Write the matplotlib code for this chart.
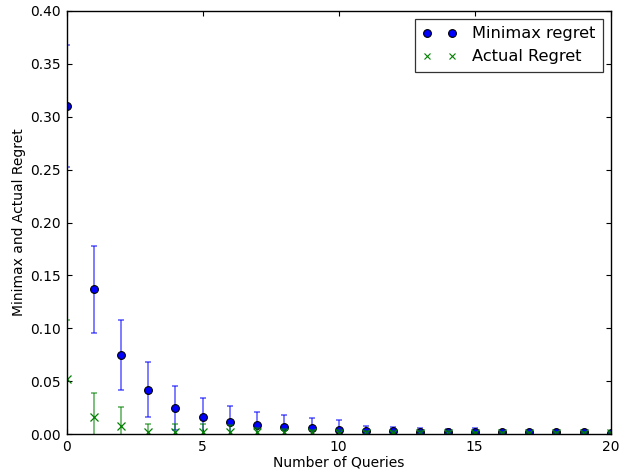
import numpy as np
import matplotlib
matplotlib.use("Agg")
import matplotlib.pyplot as plt

# number of queries
queries = list(range(21))

# minimax regret (mean and error)
minimax = [0.310, 0.137, 0.075, 0.042, 0.025, 0.016, 0.0115, 0.009, 0.0066, 0.0057,
           0.004, 0.003, 0.0028, 0.0025, 0.0024, 0.0023, 0.0022, 0.002, 0.0018, 0.0017, 0.0015]
minimax_err = [0.058, 0.041, 0.033, 0.026, 0.021, 0.018, 0.015, 0.012, 0.012, 0.010,
               0.0095, 0.0045, 0.004, 0.0033, 0.003, 0.0033, 0.001, 0.001, 0.001, 0.001, 0.001]

# actual regret (mean and error)
actual = [0.052, 0.016, 0.008, 0.0025, 0.002, 0.002, 0.002, 0.0025, 0.0018, 0.0017,
          0.0016, 0.0015, 0.0015, 0.0015, 0.0015, 0.0014, 0.0014, 0.0013, 0.0013, 0.0012, 0.0012]
actual_err = [0.056, 0.023, 0.018, 0.007, 0.008, 0.008, 0.007, 0.0035, 0.003, 0.002,
              0.002, 0.0015, 0.0015, 0.0015, 0.0015, 0.001, 0.001, 0.001, 0.001, 0.001, 0.001]

blue = (0, 0, 1)
green = (0, 0.5, 0)

fig = plt.figure(figsize=(6.29, 4.70), dpi=100)
ax = fig.add_axes([0.106, 0.076, 0.865, 0.901])

ax.errorbar(queries, minimax, yerr=minimax_err, fmt='none', ecolor=blue,
            alpha=0.65, capsize=2.4, elinewidth=1.1, capthick=1.1)
ax.plot(queries, minimax, 'o', color=blue, markeredgecolor='black',
        markeredgewidth=0.8, markersize=5.6, label='Minimax regret')
ax.errorbar(queries, actual, yerr=actual_err, fmt='none', ecolor=green,
            alpha=0.65, capsize=2.4, elinewidth=1.1, capthick=1.1)
ax.plot(queries, actual, 'x', color=green, markersize=5.3,
        markeredgewidth=0.9, label='Actual Regret')

ax.set_xlim(0, 20)
ax.set_ylim(0, 0.40)
ax.set_xticks([0, 5, 10, 15, 20])
ax.set_yticks(np.arange(0, 0.41, 0.05))
ax.yaxis.set_major_formatter(matplotlib.ticker.FormatStrFormatter('%.2f'))
ax.tick_params(direction='in', top=True, right=True, length=3.5, width=0.8,
               labelsize=10, pad=4)
for s in ax.spines.values():
    s.set_linewidth(1.0)

ax.set_xlabel('Number of Queries', fontsize=10, labelpad=1)
ax.set_ylabel('Minimax and Actual Regret', fontsize=10, labelpad=3)

leg = ax.legend(loc='upper right', numpoints=2, fontsize=11.7, fancybox=False,
                borderaxespad=0.5, handlelength=2.15, handletextpad=0.9,
                borderpad=0.45, labelspacing=0.5)
leg.get_frame().set_edgecolor('black')
leg.get_frame().set_linewidth(0.9)
leg.legend_handles[1].set_markersize(3.9)
leg.legend_handles[1].set_markeredgewidth(0.8)

fig.savefig('out.png', dpi=100)
